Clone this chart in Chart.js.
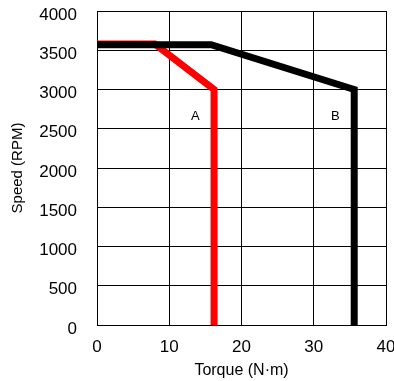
<!DOCTYPE html>
<html lang="en">
<head>
    <meta charset="UTF-8">
    <title>Torque / Speed</title>
    <script src="https://cdn.jsdelivr.net/npm/chart.js"></script>
    <style>
        html, body { margin: 0; padding: 0; background: #fff; }
        #wrap { width: 394px; height: 381px; }
    </style>
</head>
<body>
<div id="wrap"><canvas id="tsChart" width="394" height="381"></canvas></div>

<script>
    // curve A (red) and curve B (black): torque in N·m, speed in RPM
    const torqueA = [0, 8, 16.2, 16.2];
    const speedA = [3580, 3580, 3000, 0];
    const torqueB = [0, 15.8, 35.6, 35.6];
    const speedB = [3570, 3570, 3000, 0];

    const xTicks = [0, 10, 20, 30, 40];
    const yTicks = [0, 500, 1000, 1500, 2000, 2500, 3000, 3500, 4000];

    // curve names and where they sit
    const curveNames = ['A', 'B'];
    const nameTorque = [13.6, 33.0];
    const nameSpeed = [2660, 2660];

    const FONT = '"Liberation Sans", Arial, sans-serif';

    function toPoints(xs, ys) {
        return xs.map((x, i) => ({ x: x, y: ys[i] }));
    }

    // keep the plot box fixed, no extra room for edge labels
    function noEdgePadding(scale) {
        scale.paddingTop = 0;
        scale.paddingBottom = 0;
        scale.paddingLeft = 0;
        scale.paddingRight = 0;
    }

    const curveLabels = {
        id: 'curveLabels',
        afterDatasetsDraw(chart) {
            const ctx = chart.ctx;
            const xs = chart.scales.x, ys = chart.scales.y;
            ctx.save();
            ctx.fillStyle = '#000';
            ctx.font = '13px ' + FONT;
            ctx.textAlign = 'center';
            ctx.textBaseline = 'middle';
            curveNames.forEach((n, i) => {
                ctx.fillText(n, xs.getPixelForValue(nameTorque[i]), ys.getPixelForValue(nameSpeed[i]));
            });
            ctx.restore();
        }
    };

    new Chart(document.getElementById('tsChart'), {
        type: 'scatter',
        data: {
            datasets: [{
                label: 'B',
                data: toPoints(torqueB, speedB),
                showLine: true,
                borderColor: '#000000',
                borderWidth: 7,
                pointRadius: 0,
                borderJoinStyle: 'miter'
            }, {
                label: 'A',
                data: toPoints(torqueA, speedA),
                showLine: true,
                borderColor: '#ff0000',
                borderWidth: 7,
                pointRadius: 0,
                borderJoinStyle: 'miter'
            }]
        },
        options: {
            responsive: false,
            animation: false,
            layout: { padding: { top: 11, right: 8, left: 0, bottom: 0 } },
            plugins: {
                legend: { display: false },
                tooltip: { enabled: false }
            },
            scales: {
                x: {
                    type: 'linear',
                    min: 0,
                    max: 40,
                    afterFit(scale) { scale.height = 56; noEdgePadding(scale); },
                    afterBuildTicks(scale) { scale.ticks = xTicks.map(v => ({ value: v })); },
                    grid: { color: '#000', lineWidth: 1, drawTicks: false },
                    border: { color: '#000', width: 1 },
                    ticks: {
                        color: '#000',
                        padding: 12,
                        callback: v => String(v),
                        font: { family: FONT, size: 17 }
                    },
                    title: {
                        display: true,
                        text: 'Torque (N·m)',
                        color: '#000',
                        padding: { top: 0, bottom: 1 },
                        font: { family: FONT, size: 16 }
                    }
                },
                y: {
                    type: 'linear',
                    min: 0,
                    max: 4000,
                    afterFit(scale) { scale.width = 97; noEdgePadding(scale); },
                    afterBuildTicks(scale) { scale.ticks = yTicks.map(v => ({ value: v })); },
                    grid: { color: '#000', lineWidth: 1, drawTicks: false },
                    border: { color: '#000', width: 1 },
                    ticks: {
                        color: '#000',
                        padding: 20,
                        labelOffset: 4,
                        callback: v => String(v),
                        font: { family: FONT, size: 17 }
                    },
                    title: {
                        display: true,
                        text: 'Speed (RPM)',
                        color: '#000',
                        padding: { top: 9, bottom: 0 },
                        font: { family: FONT, size: 15 }
                    }
                }
            }
        },
        plugins: [curveLabels]
    });
</script>
</body>
</html>
